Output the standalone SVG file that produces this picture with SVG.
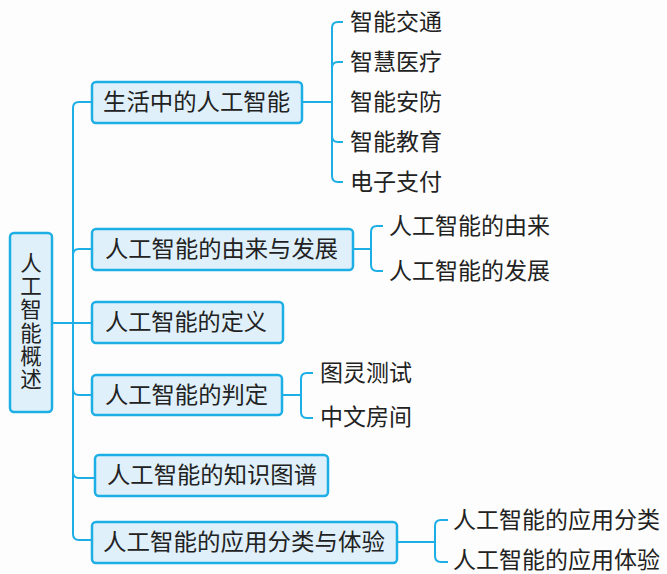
<svg xmlns="http://www.w3.org/2000/svg" width="667" height="574" viewBox="0 0 667 574">
<style>
.box{fill:#dff0fa;stroke:#1eaee6;stroke-width:2.5}
.ln{fill:none;stroke:#1eaee6;stroke-width:2}
text{font-family:"Noto Sans CJK SC","Noto Sans",sans-serif;font-size:23px;fill:#222}
.v{font-size:21.5px;writing-mode:vertical-rl;letter-spacing:1.7px}
</style>
<rect width="667" height="574" fill="#fdfdfd"/>
<g id="connectors">
<path class="ln" d="M52,323 H92"/>
<path class="ln" d="M92,102 H79 Q73,102 73,108 V534 Q73,540 79,540 H92"/>
<path class="ln" d="M73,255 Q73,249 79,249 H92"/>
<path class="ln" d="M73,389 Q73,395 79,395 H92"/>
<path class="ln" d="M73,472 Q73,478 79,478 H95"/>
<path class="ln" d="M302,102 H332"/>
<path class="ln" d="M343,22 H338 Q332,22 332,28 V176 Q332,182 338,182 H343"/>
<path class="ln" d="M332,68 Q332,62 338,62 H343"/>
<path class="ln" d="M332,136 Q332,142 338,142 H343"/>
<path class="ln" d="M353,249 H371"/>
<path class="ln" d="M383,226 H377 Q371,226 371,232 V265 Q371,271 377,271 H383"/>
<path class="ln" d="M282,395 H301"/>
<path class="ln" d="M313,373 H307 Q301,373 301,379 V412 Q301,418 307,418 H313"/>
<path class="ln" d="M397,542 H435"/>
<path class="ln" d="M448,520 H441 Q435,520 435,526 V556 Q435,562 441,562 H448"/>
</g>
<g id="root">
<rect class="box" x="10" y="233" width="42" height="179" rx="4"/>
<text class="v" x="31" y="252">人工智能概述</text>
</g>
<g id="b1">
<rect class="box" x="92" y="82" width="210" height="41" rx="4"/>
<text x="103" y="110" textLength="187" lengthAdjust="spacingAndGlyphs">生活中的人工智能</text>
</g>
<g id="b2">
<rect class="box" x="92" y="229" width="261" height="41" rx="4"/>
<text x="105" y="257" textLength="233" lengthAdjust="spacingAndGlyphs">人工智能的由来与发展</text>
</g>
<g id="b3">
<rect class="box" x="92" y="302" width="191" height="41" rx="4"/>
<text x="105" y="330" textLength="162" lengthAdjust="spacingAndGlyphs">人工智能的定义</text>
</g>
<g id="b4">
<rect class="box" x="92" y="375" width="190" height="40" rx="4"/>
<text x="105" y="403" textLength="163" lengthAdjust="spacingAndGlyphs">人工智能的判定</text>
</g>
<g id="b5">
<rect class="box" x="95" y="455" width="233" height="41" rx="4"/>
<text x="107" y="483" textLength="210" lengthAdjust="spacingAndGlyphs">人工智能的知识图谱</text>
</g>
<g id="b6">
<rect class="box" x="92" y="522" width="305" height="41" rx="4"/>
<text x="103" y="550" textLength="282" lengthAdjust="spacingAndGlyphs">人工智能的应用分类与体验</text>
</g>
<g id="c1"><text x="350" y="30">智能交通</text></g>
<g id="c2"><text x="350" y="70">智慧医疗</text></g>
<g id="c3"><text x="350" y="110">智能安防</text></g>
<g id="c4"><text x="350" y="150">智能教育</text></g>
<g id="c5"><text x="350" y="190">电子支付</text></g>
<g id="c6"><text x="389" y="234">人工智能的由来</text></g>
<g id="c7"><text x="389" y="279">人工智能的发展</text></g>
<g id="c8"><text x="320" y="381">图灵测试</text></g>
<g id="c9"><text x="320" y="425">中文房间</text></g>
<g id="c10"><text x="453" y="528">人工智能的应用分类</text></g>
<g id="c11"><text x="453" y="568">人工智能的应用体验</text></g>
</svg>
